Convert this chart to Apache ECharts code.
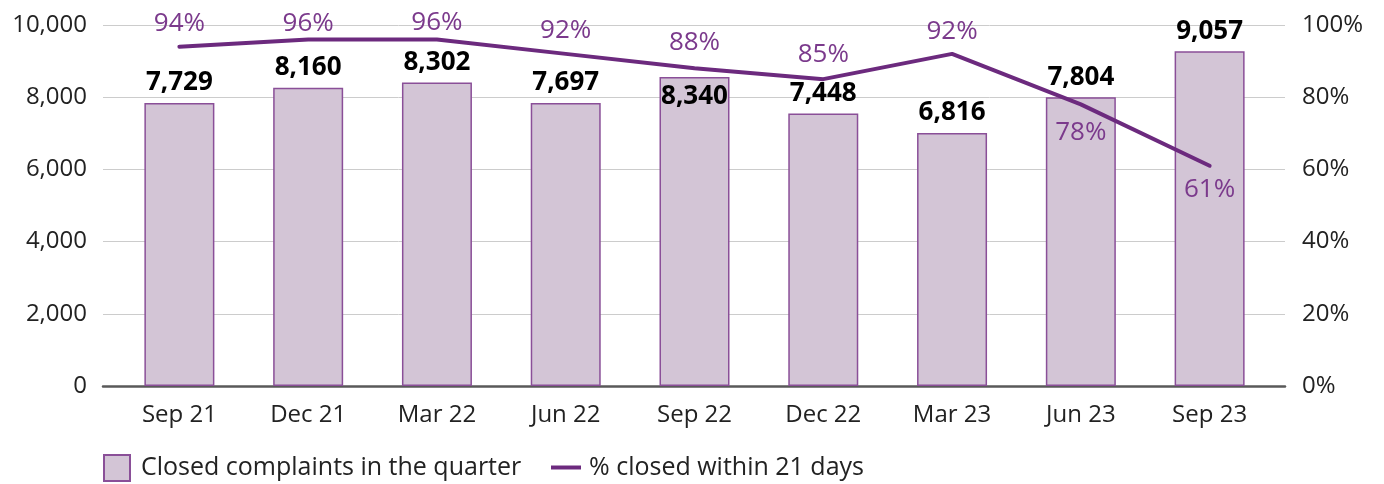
<!DOCTYPE html>
<html>
<head>
<meta charset="utf-8">
<script src="https://cdn.jsdelivr.net/npm/echarts@6/dist/echarts.min.js"></script>
<style>
  html, body { margin: 0; padding: 0; background: #fff; }
  #chart { width: 1384px; height: 484px; }
</style>
</head>
<body>
<div id="chart"></div>
<script>
    // quarters on the x axis
    var categories = ['Sep 21', 'Dec 21', 'Mar 22', 'Jun 22', 'Sep 22', 'Dec 22', 'Mar 23', 'Jun 23', 'Sep 23'];
    // bar heights as drawn in the picture (left axis)
    var barHeights = [7840, 8260, 8410, 7840, 8560, 7550, 7010, 8000, 9270];
    // printed values above the bars
    var closedComplaints = [7729, 8160, 8302, 7697, 8340, 7448, 6816, 7804, 9057];
    // % closed within 21 days (right axis)
    var closedWithin21 = [94, 96, 96, 92, 88, 85, 92, 78, 61];

    // label placement (style only)
    var barLabelPos = ['top', 'top', 'top', 'top', 'insideTop', 'top', 'top', 'top', 'top'];
    var lineLabelPos = ['top', 'top', 'top', 'top', 'top', 'top', 'top', 'bottom', 'bottom'];
    var lineLabelDist = [10, 2, 3, 10, 12, 11, 9, 15, 10];

    var font = '"Open Sans", sans-serif';
    var purple = '#6c2a7e';

    function fmt(n) {
        return n.toString().replace(/\B(?=(\d{3})+(?!\d))/g, ',');
    }

    var barData = barHeights.map(function(v, i) {
        return {
            value: v,
            label: { position: barLabelPos[i], distance: 7, formatter: fmt(closedComplaints[i]) }
        };
    });

    var lineData = closedWithin21.map(function(v, i) {
        return {
            value: v,
            label: { position: lineLabelPos[i], distance: lineLabelDist[i] }
        };
    });

    var chart = echarts.init(document.getElementById('chart'));
    chart.setOption({
        animation: false,
        backgroundColor: '#fff',
        textStyle: { fontFamily: font },
        grid: [
            { left: 103, right: 99, top: 25, bottom: 98 },
            { left: 115, right: 110, top: 25, bottom: 98 }
        ],
        legend: [{
            left: 103, top: 454, padding: 0,
            itemWidth: 26, itemHeight: 26,
            icon: 'rect',
            data: ['Closed complaints in the quarter'],
            textStyle: { fontSize: 25, color: '#222', fontFamily: font, padding: [0, 0, 0, 6] }
        }, {
            left: 551, top: 455, padding: 0,
            itemWidth: 30, itemHeight: 4,
            icon: 'rect',
            data: ['% closed within 21 days'],
            textStyle: { fontSize: 25, color: '#222', fontFamily: font, padding: [0, 0, 0, 3] }
        }],
        xAxis: [{
            gridIndex: 0, type: 'category', data: categories,
            axisLine: { lineStyle: { color: '#595959', width: 2.5 } },
            axisTick: { show: false },
            axisLabel: { show: false }
        }, {
            gridIndex: 1, type: 'category', data: categories,
            axisLine: { show: false },
            axisTick: { show: false },
            axisLabel: { fontSize: 24, color: '#222', margin: 17, fontFamily: font }
        }],
        yAxis: [{
            gridIndex: 0, type: 'value', min: 0, max: 10000, interval: 2000,
            axisLine: { show: false }, axisTick: { show: false },
            splitLine: { lineStyle: { color: '#cccccc', width: 1 } },
            axisLabel: { fontSize: 24, color: '#222', margin: 16, fontFamily: font, formatter: fmt }
        }, {
            gridIndex: 0, type: 'value', position: 'right', min: 0, max: 100, interval: 20,
            axisLine: { show: false }, axisTick: { show: false },
            splitLine: { show: false },
            axisLabel: { fontSize: 24, color: '#222', margin: 17, fontFamily: font, formatter: '{value}%' }
        }, {
            gridIndex: 1, type: 'value', min: 0, max: 10000, show: false
        }, {
            gridIndex: 1, type: 'value', min: 0, max: 100, show: false
        }],
        series: [{
            name: 'Closed complaints in the quarter',
            type: 'bar',
            xAxisIndex: 1, yAxisIndex: 2,
            barWidth: 70,
            itemStyle: { color: '#d3c5d6', borderColor: '#8a4f98', borderWidth: 1.5 },
            label: { show: true, fontSize: 26, fontWeight: 'bold', color: '#000', fontFamily: font },
            data: barData,
            z: 2
        }, {
            name: '% closed within 21 days',
            type: 'line',
            xAxisIndex: 1, yAxisIndex: 3,
            symbol: 'circle', symbolSize: 1, showSymbol: true,
            lineStyle: { color: purple, width: 4, cap: 'round', join: 'round' },
            itemStyle: { color: purple },
            label: { show: true, fontSize: 26, color: '#7b3a8c', fontFamily: font, formatter: '{c}%' },
            data: lineData,
            z: 3
        }]
    });
</script>
</body>
</html>
